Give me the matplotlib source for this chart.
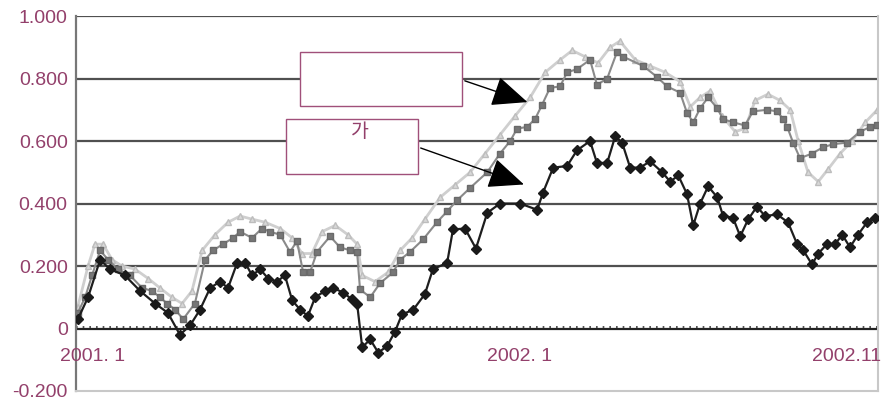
import matplotlib
matplotlib.use("Agg")
import matplotlib.pyplot as plt
from matplotlib.patches import Rectangle, FancyArrowPatch

plt.rcParams['font.family'] = ['Liberation Sans', 'Noto Sans CJK KR', 'DejaVu Sans']

# months since 2001.1
black_x = [0.05, 0.33, 0.66, 0.93, 1.34, 1.76, 2.17, 2.52, 2.85, 3.13, 3.40, 3.68, 3.95, 4.17,
           4.42, 4.64, 4.83, 5.05, 5.27, 5.51, 5.73, 5.93, 6.15, 6.36, 6.56, 6.83, 7.05, 7.33,
           7.57, 7.71, 7.85, 8.07, 8.29, 8.53, 8.75, 8.94, 9.25, 9.57, 9.79, 10.18, 10.34, 10.67,
           10.97, 11.28, 11.63, 12.18, 12.65, 12.81, 13.09, 13.47, 13.74, 14.10, 14.29, 14.57,
           14.79, 14.98, 15.20, 15.47, 15.75, 16.08, 16.30, 16.52, 16.76, 16.93, 17.12, 17.34,
           17.59, 17.75, 18.02, 18.22, 18.44, 18.68, 18.90, 19.23, 19.53, 19.78, 19.95, 20.19,
           20.36, 20.60, 20.82, 21.02, 21.23, 21.45, 21.70, 21.92]
black_y = [0.03, 0.10, 0.22, 0.19, 0.17, 0.12, 0.08, 0.05, -0.02, 0.01, 0.06, 0.13, 0.15, 0.13,
           0.21, 0.21, 0.17, 0.19, 0.16, 0.15, 0.17, 0.09, 0.06, 0.04, 0.10, 0.12, 0.13, 0.115,
           0.093, 0.08, -0.06, -0.035, -0.077, -0.057, -0.01, 0.045, 0.06, 0.11, 0.19, 0.21, 0.317, 0.32,
           0.256, 0.37, 0.40, 0.40, 0.38, 0.435, 0.515, 0.52, 0.57, 0.60, 0.53, 0.53,
           0.615, 0.595, 0.515, 0.515, 0.535, 0.50, 0.47, 0.49, 0.43, 0.33, 0.40, 0.455,
           0.42, 0.36, 0.355, 0.295, 0.35, 0.39, 0.36, 0.365, 0.34, 0.27, 0.25, 0.205,
           0.24, 0.27, 0.27, 0.30, 0.26, 0.30, 0.34, 0.355]

dark_x = [0.05, 0.25, 0.44, 0.66, 0.88, 1.15, 1.48, 1.81, 2.09, 2.30, 2.50, 2.72, 2.94, 3.26,
          3.54, 3.76, 4.03, 4.31, 4.50, 4.83, 5.10, 5.32, 5.60, 5.87, 6.06, 6.23, 6.42, 6.61,
          6.97, 7.24, 7.52, 7.71, 7.79, 8.07, 8.34, 8.70, 8.89, 9.16, 9.52, 9.90, 10.18, 10.45,
          10.81, 11.28, 11.63, 11.91, 12.10, 12.37, 12.59, 12.78, 13.00, 13.28, 13.47, 13.74,
          14.10, 14.29, 14.57, 14.84, 15.01, 15.56, 15.94, 16.21, 16.57, 16.76, 16.93, 17.12,
          17.34, 17.59, 17.75, 18.02, 18.35, 18.57, 18.96, 19.23, 19.40, 19.51, 19.67, 19.86,
          20.19, 20.49, 20.77, 21.15, 21.51, 21.78, 21.98]
dark_y = [0.05, 0.10, 0.17, 0.25, 0.22, 0.19, 0.17, 0.13, 0.12, 0.10, 0.08, 0.06, 0.03, 0.08,
          0.22, 0.25, 0.27, 0.29, 0.31, 0.29, 0.32, 0.31, 0.30, 0.245, 0.28, 0.18, 0.18, 0.245,
          0.295, 0.26, 0.25, 0.245, 0.125, 0.10, 0.145, 0.18, 0.22, 0.245, 0.285, 0.34, 0.375, 0.41,
          0.45, 0.50, 0.56, 0.60, 0.64, 0.645, 0.67, 0.715, 0.77, 0.775, 0.82, 0.83,
          0.86, 0.78, 0.80, 0.885, 0.87, 0.84, 0.805, 0.775, 0.755, 0.69, 0.66, 0.705,
          0.74, 0.705, 0.67, 0.66, 0.65, 0.695, 0.70, 0.695, 0.67, 0.645, 0.595, 0.545,
          0.56, 0.58, 0.59, 0.595, 0.63, 0.645, 0.65]

light_x = [0.05, 0.33, 0.52, 0.74, 0.99, 1.26, 1.62, 1.98, 2.30, 2.63, 2.91, 3.18, 3.46, 3.81,
           4.17, 4.50, 4.83, 5.19, 5.60, 5.93, 6.20, 6.47, 6.75, 7.11, 7.46, 7.71, 7.85, 8.20,
           8.56, 8.89, 9.22, 9.57, 9.99, 10.40, 10.81, 11.22, 11.63, 12.04, 12.46, 12.87, 13.28,
           13.61, 13.96, 14.32, 14.65, 14.92, 15.34, 15.75, 16.16, 16.57, 16.85, 17.12, 17.39,
           17.72, 18.08, 18.35, 18.63, 18.98, 19.31, 19.59, 19.81, 20.08, 20.36, 20.63, 20.96,
           21.29, 21.65, 21.98]
light_y = [0.07, 0.20, 0.27, 0.27, 0.22, 0.20, 0.19, 0.16, 0.13, 0.10, 0.08, 0.12, 0.25, 0.30,
           0.34, 0.36, 0.35, 0.34, 0.32, 0.29, 0.24, 0.24, 0.31, 0.33, 0.30, 0.27, 0.17, 0.15,
           0.18, 0.25, 0.29, 0.35, 0.42, 0.46, 0.50, 0.56, 0.62, 0.68, 0.74, 0.82, 0.86,
           0.89, 0.87, 0.85, 0.90, 0.92, 0.86, 0.84, 0.82, 0.79, 0.71, 0.74, 0.76,
           0.68, 0.63, 0.64, 0.73, 0.75, 0.73, 0.70, 0.60, 0.50, 0.47, 0.51, 0.56,
           0.60, 0.66, 0.70]

y_ticks = [1.0, 0.8, 0.6, 0.4, 0.2, 0, -0.2]
y_labels = ['1.000', '0.800', '0.600', '0.400', '0.200', '0', '-0.200']
grid_levels = [0.2, 0.4, 0.6, 0.8, 1.0]
x_label_pos = [0.44, 12.18, 21.15]
x_labels = ['2001. 1', '2002. 1', '2002.11']

label_color = '#93406b'

fig = plt.figure(figsize=(8.82, 4.12), dpi=100)
ax = fig.add_axes([0.0862, 0.051, 0.9093, 0.910])
ax.set_xlim(0, 22)
ax.set_ylim(-0.2, 1.0)

for g in grid_levels:
    ax.axhline(g, color='#505050', lw=1.6, zorder=1)
ax.axhline(0, color='#222222', lw=1.6, zorder=1)
ax.axhline(0.006, color='#333333', lw=1.2, ls=(0, (1, 3)), zorder=1)

ax.plot(light_x, light_y, color='#cfcfcf', lw=2.0, marker='^', ms=5,
        markeredgecolor='#bdbdbd', markerfacecolor='#d8d8d8', zorder=2)
ax.plot(dark_x, dark_y, color='#8a8a8a', lw=1.5, marker='s', ms=4,
        markeredgecolor='#6a6a6a', markerfacecolor='#777777', zorder=3)
ax.plot(black_x, black_y, color='#1e1e1e', lw=1.6, marker='D', ms=5,
        markeredgecolor='#1a1a1a', markerfacecolor='#1a1a1a', zorder=4)

ax.set_yticks(y_ticks)
ax.set_yticklabels(y_labels, color=label_color, fontsize=14)
ax.tick_params(axis='y', length=0, pad=6)
ax.set_xticks([])

for xp, lab in zip(x_label_pos, x_labels):
    ax.text(xp, -0.09, lab, ha='center', va='center', color=label_color, fontsize=14, zorder=5)

for side in ['top']:
    ax.spines[side].set_visible(False)
ax.spines['left'].set_color('#777777')
ax.spines['left'].set_linewidth(1.6)
ax.spines['right'].set_color('#c8c8c8')
ax.spines['right'].set_linewidth(1.5)
ax.spines['bottom'].set_color('#c8c8c8')
ax.spines['bottom'].set_linewidth(1.5)

# annotation boxes
box_color = '#a0507a'
fig.add_artist(Rectangle((0.340, 0.743), 0.184, 0.131, transform=fig.transFigure,
                         facecolor='white', edgecolor=box_color, lw=1.0, zorder=6))
fig.add_artist(Rectangle((0.324, 0.578), 0.150, 0.133, transform=fig.transFigure,
                         facecolor='white', edgecolor=box_color, lw=1.0, zorder=6))
fig.text(0.408, 0.682, '가', color=label_color, fontsize=14, ha='center', va='center',
         family=['Noto Sans CJK KR', 'DejaVu Sans'], zorder=7)

fig.add_artist(FancyArrowPatch((0.524, 0.806), (0.601, 0.750), transform=fig.transFigure,
                               arrowstyle='-|>,head_length=1.4,head_width=0.6', mutation_scale=16,
                               color='black', lw=1.0, zorder=7))
fig.add_artist(FancyArrowPatch((0.474, 0.643), (0.597, 0.550), transform=fig.transFigure,
                               arrowstyle='-|>,head_length=1.4,head_width=0.6', mutation_scale=16,
                               color='black', lw=1.0, zorder=7))

fig.savefig('out.png', dpi=100)
